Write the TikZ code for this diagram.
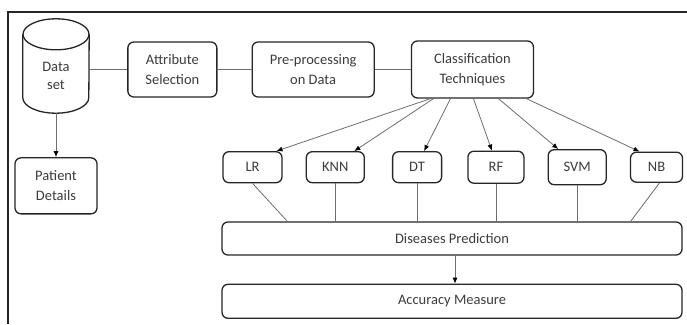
\documentclass[tikz,border=0pt]{standalone}
\usepackage{fontspec}
\setmainfont{Carlito}
\usetikzlibrary{arrows.meta,positioning}

\definecolor{txtgray}{RGB}{60,60,60}
\definecolor{linegray}{RGB}{110,110,110}

\tikzset{
  box/.style={draw=black!85,line width=1.3pt,rounded corners=6pt,align=center,
    text=txtgray,font=\fontsize{14.5}{20}\selectfont,inner sep=2pt},
  cyl/.style={draw=black!85,line width=1.3pt},
  conn/.style={draw=linegray,line width=0.8pt},
  arr/.style={conn,-{Latex[black,length=6pt,width=5pt]}}
}

\begin{document}
\begin{tikzpicture}[x=1pt,y=1pt]
  \useasboundingbox (0,0) rectangle (687,324);
  \fill[white] (0,0) rectangle (687,324);
  % frame
  \draw[black!85,line width=1.8pt] (8,0) -- (8,312) -- (687,312);

  % data set (cylinder)
  \node[align=center,text=txtgray,font=\fontsize{14.5}{20}\selectfont,
        minimum width=66pt,minimum height=94pt] (DS) at (56,258)
        {\raisebox{-10pt}[\height][\depth]{\shortstack{Data\\[6pt]set}}};
  \draw[cyl] ([yshift=-15.5pt]DS.north) ellipse [x radius=33pt,y radius=15.5pt];
  \draw[cyl] ([yshift=-15.5pt]DS.north west) -- ([yshift=15.5pt]DS.south west)
     arc[start angle=180,end angle=360,x radius=33pt,y radius=15.5pt]
     -- ([yshift=-15.5pt]DS.north east);

  \node[box,minimum width=89pt,minimum height=55pt] (AS) [right=38pt of DS,yshift=-3.5pt] {Attribute\\Selection};
  \node[box,minimum width=122pt,minimum height=55pt] (PP) [right=34pt of AS] {Pre-processing\\on Data};
  \node[box,minimum width=122pt,minimum height=57pt] (CT) [right=36pt of PP] {Classification\\Techniques};
  \node[box,minimum width=82pt,minimum height=56pt] (PD) [below=44pt of DS] {Patient\\Details};

  \node[box,minimum width=460pt,minimum height=33pt] (DP) at (452,85.5) {Diseases Prediction};
  \node[box,minimum width=460pt,minimum height=34pt] (AM) [below=28pt of DP] {Accuracy Measure};

  \node[box,minimum width=59pt,minimum height=31pt] (LR) [above right=38pt and 1pt of DP.north west] {LR};
  \node[box,minimum width=58pt,minimum height=31pt] (KNN) [right=23pt of LR] {KNN};
  \node[box,minimum width=49pt,minimum height=31pt] (DT) [right=27pt of KNN] {DT};
  \node[box,minimum width=56pt,minimum height=32pt] (RF) [right=25pt of DT] {RF};
  \node[box,minimum width=58pt,minimum height=35pt] (SVM) [right=23pt of RF] {SVM};
  \node[box,minimum width=52pt,minimum height=30pt] (NB) [right=23pt of SVM] {NB};

  \draw[conn] (AS.west) -- (AS.west -| DS.east);
  \draw[conn] (AS) -- (PP);
  \draw[conn] (PP) -- (CT);
  \draw[arr] (DS.south) -- (DS.south |- PD.north);

  \draw[arr] ([xshift=-42pt]CT.south) -- ([xshift=24pt]LR.north);
  \draw[arr] ([xshift=-39pt]CT.south) -- ([xshift=19pt]KNN.north);
  \draw[arr] ([xshift=-22pt]CT.south) -- ([xshift=7pt]DT.north);
  \draw[arr] ([xshift=1pt]CT.south) -- ([xshift=-4pt]RF.north);
  \draw[arr] ([xshift=26pt]CT.south) -- ([xshift=-19pt]SVM.north);
  \draw[arr] ([xshift=54pt]CT.south) -- ([xshift=-17pt]NB.north);

  \draw[conn] (LR.south) -- ([xshift=66pt]DP.north west);
  \draw[conn] (KNN.south) -- (KNN.south |- DP.north);
  \draw[conn] (DT.south) -- (DT.south |- DP.north);
  \draw[conn] (RF.south) -- (RF.south |- DP.north);
  \draw[conn] (SVM.south) -- (SVM.south |- DP.north);
  \draw[conn] ([xshift=3pt]NB.south) -- ([xshift=-52pt]DP.north east);

  \draw[arr] ([xshift=3pt]DP.south) -- ([xshift=3pt]AM.north);
\end{tikzpicture}
\end{document}
